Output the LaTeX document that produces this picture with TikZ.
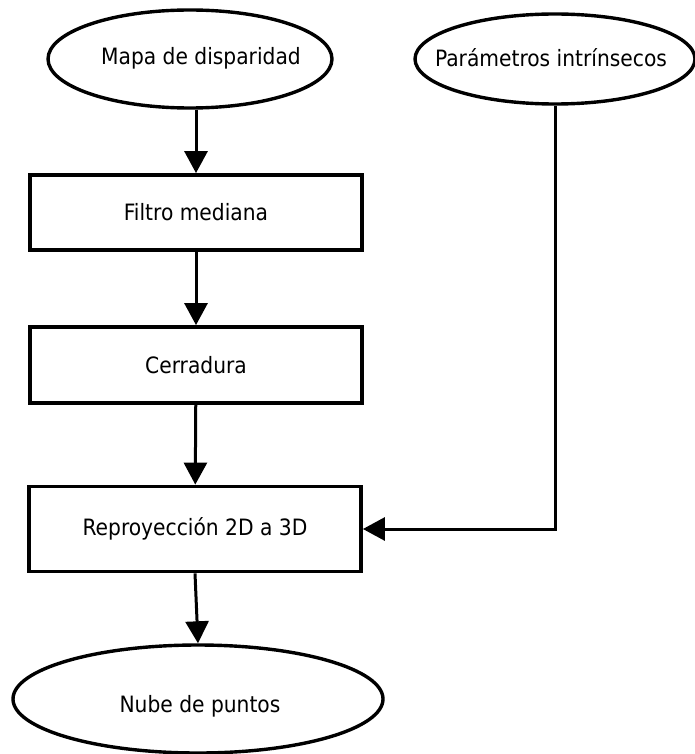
\documentclass[tikz,border=0pt]{standalone}
\usepackage{fontspec}
\setmainfont{DejaVu Sans Condensed}
\usetikzlibrary{arrows.meta,shapes.geometric}
\begin{document}
\begin{tikzpicture}[x=1pt,y=-1pt,
  every node/.style={font=\fontsize{22.5}{26}\selectfont},
  oval/.style={draw, ellipse, line width=3.4pt, inner sep=0pt},
  stepbox/.style={draw, rectangle, line width=3.8pt, minimum width=332pt, inner sep=0pt},
  flow/.style={line width=3pt, -{Triangle[length=22pt,width=23pt]}},
  lbl/.style={inner sep=0pt}]
\useasboundingbox (0,0) rectangle (694,754);

% inputs
\node[oval, minimum width=284pt, minimum height=98pt] (mapa) at (190,59) {};
\node[lbl] (tmapa) at (201,58) {Mapa de disparidad};
\node[oval, minimum width=280pt, minimum height=90pt] (param) at (555,59) {};
\node[lbl] (tparam) at (551,58) {Parámetros intrínsecos};

% processing steps
\node[stepbox, minimum height=75pt] (filtro) at (196,212.5) {Filtro mediana};
\node[stepbox, minimum height=76pt] (cerr) at (196,365) {Cerradura};
\node[stepbox, minimum height=85pt] (reproy) at (195,529) {Reproyección 2D a 3D};

% output
\node[oval, minimum width=370pt, minimum height=108pt] (nube) at (198,699) {};
\node[lbl] (tnube) at (200,706) {Nube de puntos};

% connectors
\draw[flow] (mapa.south -| filtro.north) -- (filtro.north);
\draw[flow] (filtro) -- (cerr);
\draw[flow] (cerr) -- (reproy);
\draw[flow] (reproy.south) -- (nube.north);
\draw[flow] (param.south) |- (reproy.east);
\end{tikzpicture}
\end{document}
